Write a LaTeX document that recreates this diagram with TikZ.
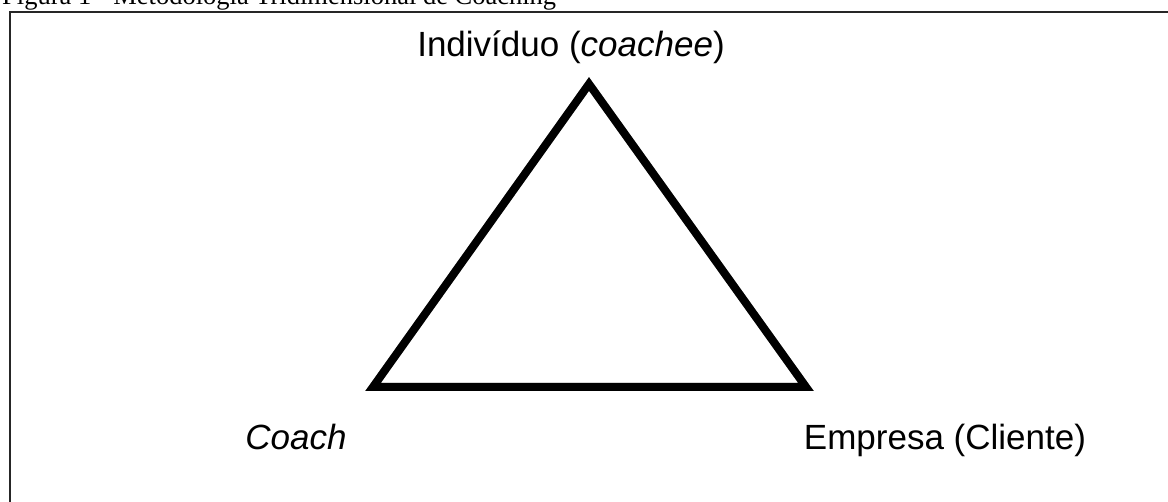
\documentclass[tikz,border=0pt]{standalone}
\usepackage{fontspec}
\setmainfont{Liberation Sans}
\newfontfamily\captionserif{Liberation Serif}
\tikzset{side/.style={line width=8pt,black,line join=miter}}
\tikzset{shadow/.style={line width=8pt,black!30,line join=miter}}
\tikzset{vlabel/.style={anchor=base,inner sep=0pt,font=\fontsize{35}{40}\selectfont}}

\begin{document}
\begin{tikzpicture}[x=1pt,y=-1pt]
    \clip (0,0) rectangle (1168,502);
    \node[anchor=base west,inner sep=0pt,font=\captionserif\fontsize{26.5}{30}\selectfont] (cap) at (2,5) {Figura 1 - Metodologia Tridimensional de Coaching};
    \draw[line width=2.5pt,black!85] (10,520) -- (10,12) -- (1180,12);
    \coordinate (ind) at (589,84);
    \coordinate (coach) at (373,387);
    \coordinate (emp) at (806,387);
    \draw[shadow,shift={(3,4)}] (ind) -- (emp) -- (coach) -- cycle;
    \draw[side] (ind) -- (emp) -- (coach) -- cycle;
    \node[vlabel] (tind) at (571,57) {Indivíduo (\textit{coachee})};
    \node[vlabel] (tcoach) at (296,450) {\textit{Coach}};
    \node[vlabel] (temp) at (945,450) {Empresa (Cliente)};
  \end{tikzpicture}
\end{document}
